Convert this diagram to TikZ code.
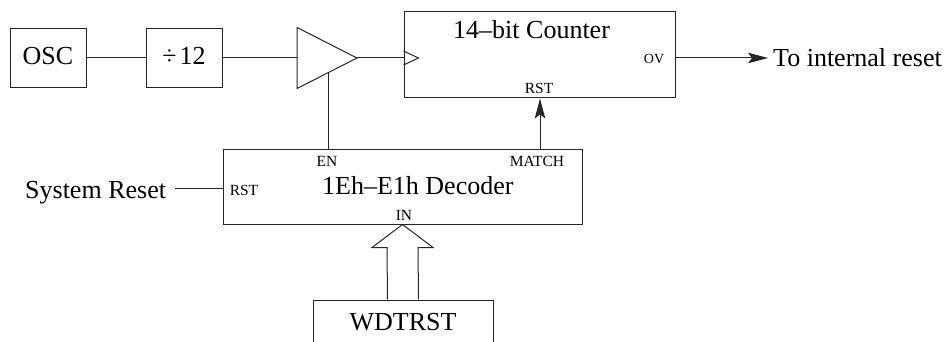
\documentclass[tikz,border=0pt]{standalone}
\usepackage{fontspec}
\setmainfont{Liberation Serif}
\usetikzlibrary{arrows.meta,calc}
\tikzset{
  wire/.style={draw=black!85, line width=1pt},
  blockbox/.style={draw=black!85, line width=1pt, inner sep=0pt},
  big/.style={font=\fontsize{26}{30}\selectfont, inner sep=0pt},
  small/.style={font=\fontsize{15.5}{18}\selectfont, inner sep=0pt},
  tiny/.style={font=\fontsize{14}{16}\selectfont, inner sep=0pt},
  arr/.style={-{Stealth[length=20pt,width=10.5pt,inset=4pt]}}
}
\begin{document}
\begin{tikzpicture}[x=1pt,y=-1pt]
\useasboundingbox (0,0) rectangle (950,342);
\clip (0,0) rectangle (950,342);
% boxes
\node[blockbox, minimum width=76pt, minimum height=59pt] (osc) at (48,58) {};
\node[blockbox, minimum width=76pt, minimum height=59pt] (div) at (184,58) {};
\node[blockbox, minimum width=271pt, minimum height=86pt] (counter) at (539.5,55) {};
\node[blockbox, minimum width=359pt, minimum height=75pt] (decoder) at (402.5,186.5) {};
\node[blockbox, minimum width=180pt, minimum height=52pt] (wdtrst) at (403,326) {};
% texts
\node[big, anchor=base] (osctxt) at (48,65) {OSC};
\node[big, anchor=base] (divtxt) at (184,65) {÷\kern3pt 12};
\node[big, anchor=base west] (cnttxt) at (453,38.5) {14–bit Counter};
\node[big, anchor=base west] (dectxt) at (322,194) {1Eh–E1h Decoder};
\node[big, anchor=base] (wdttxt) at (403,330) {WDTRST};
\node[big, anchor=base west] (tir) at (773,66.5) {To internal reset};
\node[big, anchor=base west] (sysr) at (25,198) {System Reset};
\node[small, anchor=base] (crst) at (539,94) {RST};
\node[small, anchor=base] (en) at (327,166.5) {EN};
\node[small, anchor=base] (match) at (537,166.5) {MATCH};
\node[small, anchor=base] (drst) at (244,195) {RST};
\node[small, anchor=base] (in) at (404,220) {IN};
\node[tiny, anchor=base] (ov) at (654,63.3) {OV};
% amplifier
\coordinate (ampA) at (297,27.5);
\coordinate (ampB) at (297,88.5);
\coordinate (ampT) at (357,58);
\coordinate (ampIn) at (297,58);
\coordinate (enTop) at (328,72.7);
\draw[wire, line join=miter] (ampA) -- (ampT) -- (ampB) -- cycle;
% connectors
\draw[wire] (osc.east) -- (div.west);
\draw[wire] (div.east) -- (ampIn);
\draw[wire] (ampT) -- (ampT -| counter.west);
\draw[wire] (enTop) -- (enTop |- decoder.north);
\coordinate (clk) at (ampT -| counter.west);
\draw[wire, line join=miter] ($(clk)+(0,-7)$) -- ($(clk)+(15,0)$) -- ($(clk)+(0,7)$);
\coordinate (ovout) at (ampT -| counter.east);
\draw[wire, arr, shorten >=5pt] (ovout) -- (ovout -| tir.west);
\coordinate (m) at (540,0);
\draw[wire, arr] (m |- decoder.north) -- (m |- counter.south);
\coordinate (sr) at (175,188);
\draw[wire] (sr) -- (sr -| decoder.west);
\draw[wire, line join=miter] ($(wdtrst.north)+(-15.5,0)$) -- ($(decoder.south)+(-15.5,23)$) -- ($(decoder.south)+(-30.5,23)$) -- (decoder.south) -- ($(decoder.south)+(30.5,23)$) -- ($(decoder.south)+(15.5,23)$) -- ($(wdtrst.north)+(15.5,0)$);
\end{tikzpicture}
\end{document}
